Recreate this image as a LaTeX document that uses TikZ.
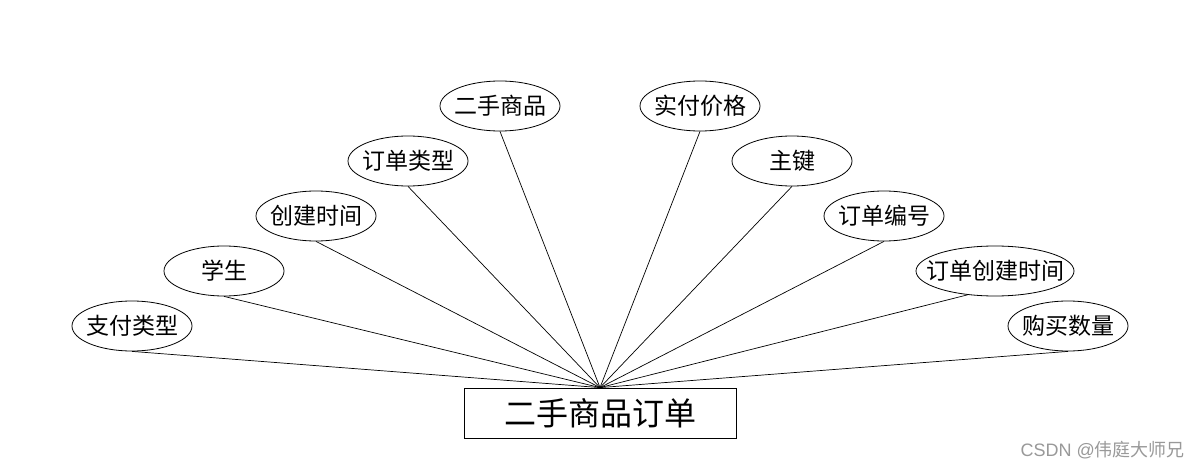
\documentclass[tikz,border=0pt]{standalone}
\usepackage{fontspec}
\setmainfont{Noto Sans CJK SC}
\newfontfamily\latinwm{Liberation Sans}
\usetikzlibrary{shapes.geometric}
\newcommand{\zt}[1]{\makebox[0pt]{#1}}
\tikzset{
  attr/.style={ellipse, draw, line width=0.8pt, minimum width=120pt, minimum height=50pt, inner sep=0pt, font=\fontsize{23}{23}\selectfont},
  ent/.style={rectangle, draw, line width=0.8pt, minimum width=272pt, minimum height=50pt, inner sep=0pt, font=\fontsize{32}{32}\selectfont},
  link/.style={line width=0.7pt}
}
\begin{document}
\begin{tikzpicture}[x=1pt,y=-1pt]
\useasboundingbox[fill=white] (0,0) rectangle (1200,468);
\node[ent] (main) at (600,413) {\zt{二手商品订单}};
\node[attr] (a1) at (132,326) {\zt{支付类型}};
\node[attr] (a2) at (224,271) {\zt{学生}};
\node[attr] (a3) at (316,216) {\zt{创建时间}};
\node[attr] (a4) at (408,161) {\zt{订单类型}};
\node[attr] (a5) at (500,106) {\zt{二手商品}};
\node[attr] (a6) at (700,106) {\zt{实付价格}};
\node[attr] (a7) at (792,161) {\zt{主键}};
\node[attr] (a8) at (884,216) {\zt{订单编号}};
\node[attr, minimum width=158pt] (a9) at (995,271) {\zt{订单创建时间}};
\node[attr] (a10) at (1068,326) {\zt{购买数量}};
\foreach \n in {a1,a2,a3,a4,a5,a6,a7,a8,a10}
  \draw[link] (\n.south) -- (main.north);
\draw[link] (a9.221) -- (main.north);
\node[text=black!40, font=\fontsize{18}{18}\selectfont, anchor=east, inner sep=0pt] (wm) at (1185,450) {{\latinwm CSDN @}伟庭大师兄};
\end{tikzpicture}
\end{document}
